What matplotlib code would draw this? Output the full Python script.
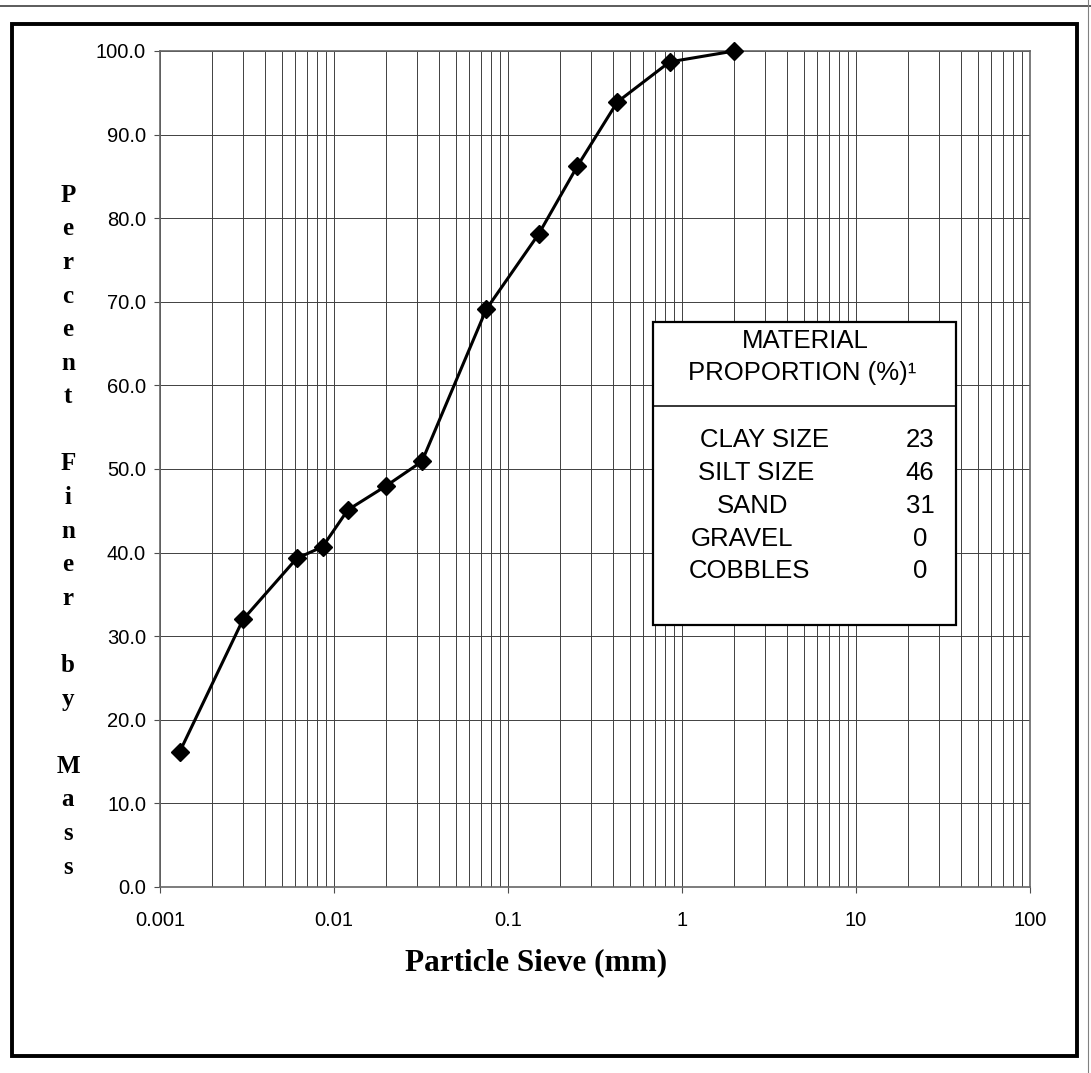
import matplotlib
matplotlib.use('Agg')
import matplotlib.pyplot as plt
from matplotlib.ticker import LogLocator, NullFormatter
from matplotlib.lines import Line2D
from matplotlib.patches import Rectangle

plt.rcParams['font.family'] = ['Liberation Sans', 'DejaVu Sans']

# grain size curve (hydrometer + sieve)
diam_mm = [0.0013, 0.0030, 0.0061, 0.0086, 0.012, 0.020, 0.032,
           0.075, 0.15, 0.25, 0.425, 0.85, 2.0]
pct_finer = [16.2, 32.0, 39.3, 40.7, 45.1, 48.0, 50.9,
             69.1, 78.1, 86.2, 93.9, 98.7, 100.0]

x_ticks = [0.001, 0.01, 0.1, 1, 10, 100]
x_tick_labels = ['0.001', '0.01', '0.1', '1', '10', '100']
y_ticks = [0, 10, 20, 30, 40, 50, 60, 70, 80, 90, 100]

materials = ['CLAY SIZE', 'SILT SIZE', 'SAND', 'GRAVEL', 'COBBLES']
proportions = [23, 46, 31, 0, 0]

W, H = 1091, 1073


def fx(px):
    return px / W


def fy(py):
    return 1 - py / H


fig = plt.figure(figsize=(W / 100, H / 100), dpi=100)
ax = fig.add_axes([fx(160), fy(887), (1030 - 160) / W, (887 - 51) / H])

ax.plot(diam_mm, pct_finer, color='black', lw=2.2, marker='D', ms=9,
        mfc='black', mec='black', zorder=5, clip_on=False)

ax.set_xscale('log')
ax.set_xlim(0.001, 100)
ax.set_ylim(0, 100)
ax.set_xticks(x_ticks)
ax.set_xticklabels(x_tick_labels)
ax.xaxis.set_minor_locator(LogLocator(base=10, subs=range(2, 10), numticks=20))
ax.xaxis.set_minor_formatter(NullFormatter())
ax.set_yticks(y_ticks)
ax.set_yticklabels([f'{v:.1f}' for v in y_ticks])

ax.grid(which='both', axis='x', color='0.25', lw=0.7)
ax.grid(which='major', axis='y', color='0.25', lw=0.7)
ax.tick_params(which='major', direction='out', length=4, width=0.8,
               color='0.3', labelsize=14.5)
ax.tick_params(which='minor', length=0)
ax.tick_params(axis='x', pad=13)
ax.tick_params(axis='y', pad=6)
for s in ax.spines.values():
    s.set_color('0.4')
    s.set_linewidth(1.2)

# axis titles
fig.text(fx(536), fy(970), 'Particle Sieve (mm)', family='Liberation Serif',
         weight='bold', size=22.5, ha='center', va='baseline')

ylab = [c if c != ' ' else '' for c in 'Percent Finer by Mass']
for i, c in enumerate(ylab):
    fig.text(fx(68), fy(201.7 + 33.6 * i), c, family='Liberation Serif',
             weight='bold', size=18, ha='center', va='baseline')

# material proportion box
fig.add_artist(Rectangle((fx(653), fy(625)), (956 - 653) / W, (625 - 322) / H,
                         transform=fig.transFigure, fc='white', ec='black',
                         lw=1.6, zorder=10))
fig.add_artist(Line2D([fx(653), fx(956)], [fy(406), fy(406)], color='black',
                      lw=1.1, transform=fig.transFigure, zorder=11))
fig.text(fx(805), fy(348), 'MATERIAL', size=18.5, ha='center',
         va='baseline', zorder=12)
fig.text(fx(802), fy(380), 'PROPORTION (%)\u00b9', size=18.5, ha='center',
         va='baseline', zorder=12)
row_x = [765, 756, 752.5, 742, 749]
for i, (m, p) in enumerate(zip(materials, proportions)):
    yb = 446.5 + 33 * i
    fig.text(fx(row_x[i]), fy(yb), m, size=18.5, ha='center', va='baseline',
             zorder=12)
    fig.text(fx(920), fy(yb), str(p), size=18.5, ha='center', va='baseline',
             zorder=12)

# page frame
fig.add_artist(Rectangle((fx(12), fy(1056)), (1077 - 12) / W, (1056 - 24) / H,
                         transform=fig.transFigure, fill=False, ec='black',
                         lw=2.8, zorder=1))
fig.add_artist(Line2D([0, 1], [fy(6), fy(6)], color='0.25', lw=1.2,
                      transform=fig.transFigure))
fig.add_artist(Line2D([fx(1088), fx(1088)], [0, 1], color='0.5', lw=0.8,
                      transform=fig.transFigure))

fig.savefig('out.png', dpi=100)
